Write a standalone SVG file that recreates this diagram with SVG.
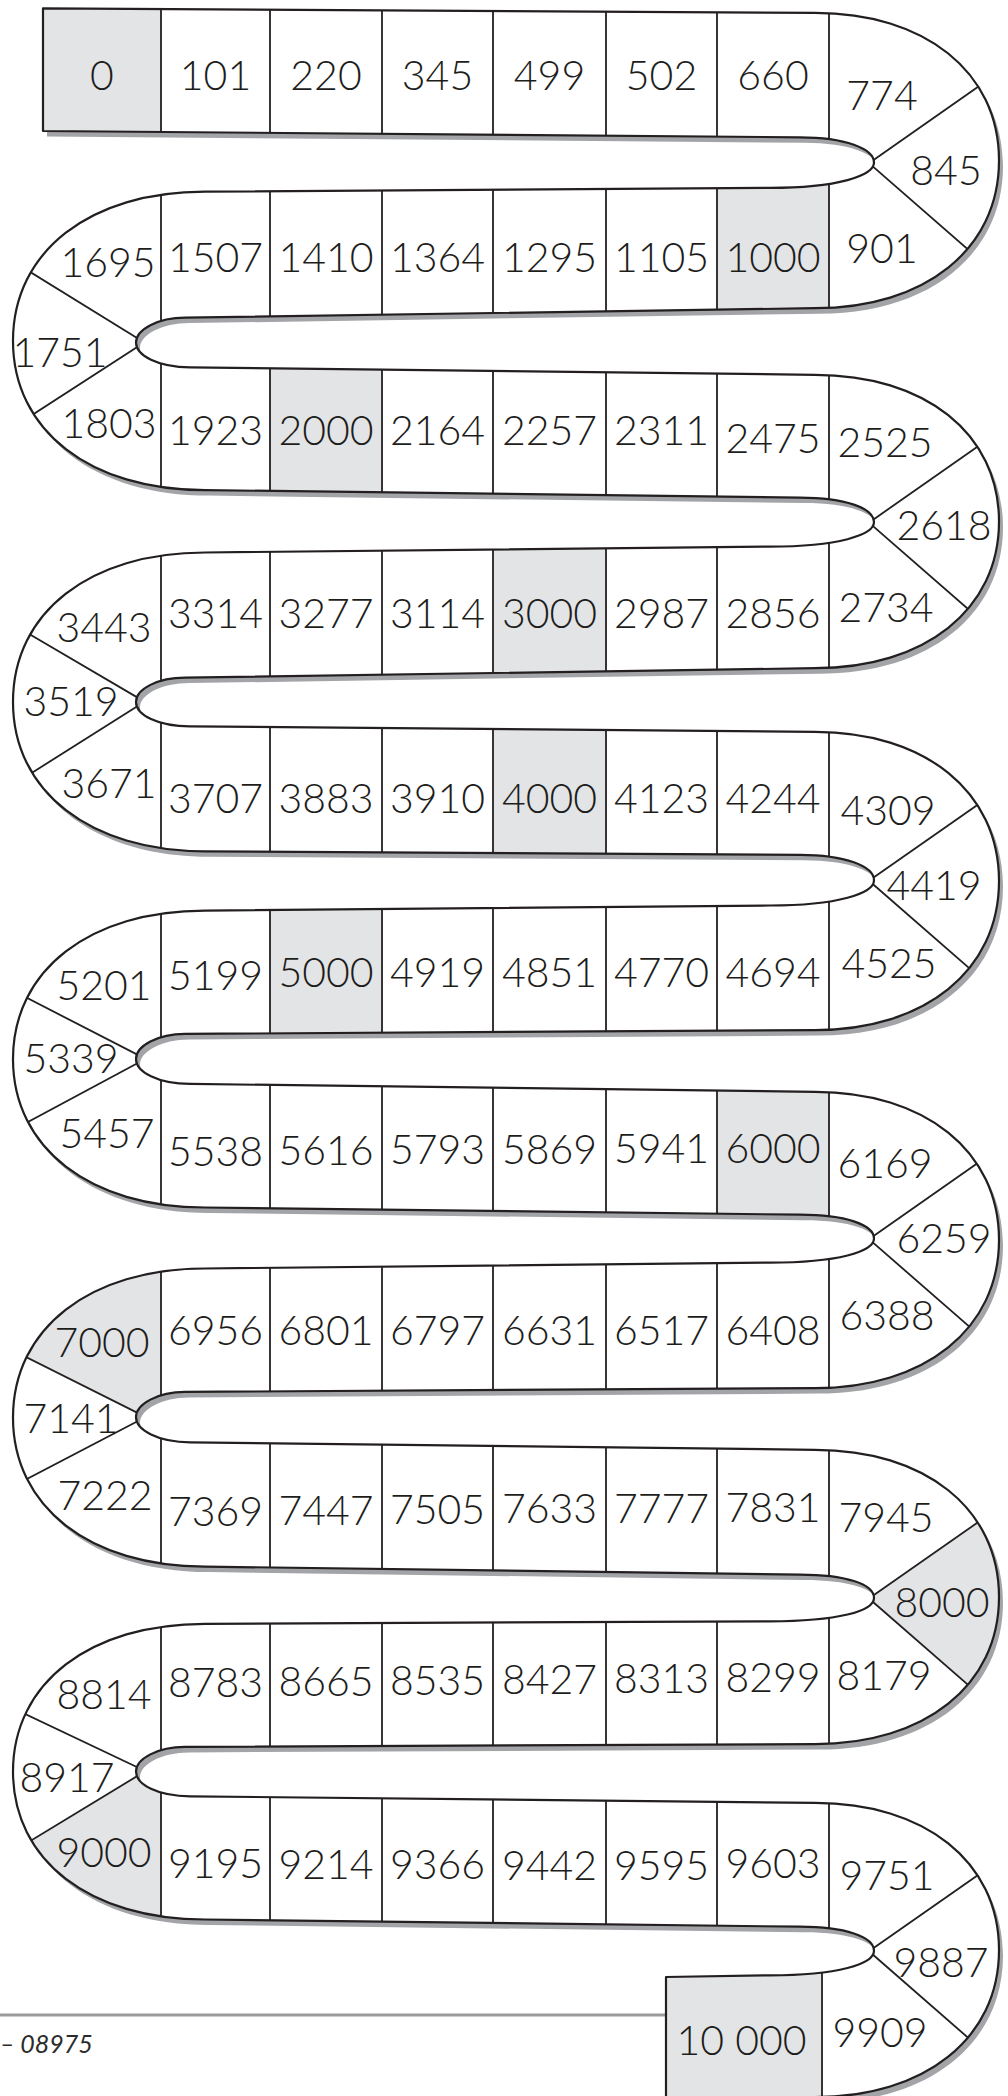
<svg xmlns="http://www.w3.org/2000/svg" xmlns:xlink="http://www.w3.org/1999/xlink" width="1008" height="2096" viewBox="0 0 1008 2096">
<style>
.t{font-family:Lato,"Noto Sans","DejaVu Sans",sans-serif;font-size:41px;font-weight:300;text-anchor:middle;fill:#1d1d1b}
.ln{stroke:#231f20;stroke-width:1.8;fill:none}
.sh{fill:#e3e4e6}
</style>
<defs>
<path id="outline" d="M43 8.3 L815 12.9 C925 12.9 999 71.95 999 160.55 C999 249.15 925 308.2 815 308.2 L185 317.6 C158 317.6 136 329.5 136 342.5 C136 355.5 158 367.3 190 367.3 L815 374.8 C925 374.8 999 433.5 999 521.5 C999 609.5 925 668.2 815 668.2 L185 677.6 C158 677.6 136 688.9 136 701.9 C136 714.9 158 726.3 190 726.3 L815 731.9 C925 731.9 999 791.5 999 881 C999 970.5 925 1030.1 815 1030.1 L185 1033.9 C158 1033.9 136 1045.9 136 1058.9 C136 1071.9 158 1083.9 190 1083.9 L815 1091.8 C925 1091.8 999 1151.05 999 1239.95 C999 1328.85 925 1388.1 815 1388.1 L185 1391.9 C158 1391.9 136 1404.1 136 1417.1 C136 1430.1 158 1442.3 190 1442.3 L815 1449.8 C925 1449.8 999 1508.65 999 1596.95 C999 1685.25 925 1744.1 815 1744.1 L185 1746.9 C158 1746.9 136 1758.6 136 1771.6 C136 1784.6 158 1796.3 190 1796.3 L815 1802.9 C925 1802.9 999 1861.7 999 1950 C999 2038.3 925 2097.1 815 2097.1 L815 2130 L666 2130 L666 1977 L770 1975.3 C838 1975.3 874 1964 874 1950.8 C874 1936.8 845 1926.7 800 1926.7 L205 1919.5 C90 1919.5 13 1860.35 13 1771.65 C13 1682.95 90 1623.8 205 1623.8 L770 1621.3 C838 1621.3 874 1611 874 1597.95 C874 1583.95 845 1574.6 800 1574.6 L205 1566.6 C90 1566.6 13 1507 13 1417.6 C13 1328.2 90 1268.5 205 1268.5 L770 1262.6 C838 1262.6 874 1251.6 874 1238.6 C874 1224.6 845 1214.7 800 1214.7 L205 1207.5 C90 1207.5 13 1148.15 13 1059.05 C13 969.95 90 910.6 205 910.6 L770 905.5 C838 905.5 874 893.2 874 880.2 C874 866.2 845 854.8 800 854.8 L205 851.3 C90 851.3 13 791.5 13 701.9 C13 612.3 90 552.5 205 552.5 L770 546.6 C838 546.6 874 535.1 874 522.1 C874 508.1 845 497.6 800 497.6 L205 490.1 C90 490.1 13 430.4 13 340.9 C13 251.4 90 191.7 205 191.7 L770 187.9 C838 187.9 874 175.6 874 162.6 C874 148.6 845 137.3 800 137.3 L43 131 Z"/>
<clipPath id="clip"><use href="#outline"/></clipPath>
</defs>
<rect width="1008" height="2096" fill="#fff"/>
<g id="footer">
<line x1="0" y1="2015" x2="666" y2="2015" stroke="#9b9b9b" stroke-width="3"/>
<text x="0" y="2053" style="font-family:Lato,'Noto Sans',sans-serif;font-size:25px;font-style:italic;fill:#2b2b2b">– 08975</text>
</g>
<g id="board">
<use href="#outline" transform="translate(4,5.5)" fill="#a2a4a7"/>
<use href="#outline" fill="#fff"/>
<g id="shaded" clip-path="url(#clip)">
<rect class="sh" x="43" y="0" width="118" height="150"/>
<rect class="sh" x="717" y="170" width="112" height="160"/>
<rect class="sh" x="270" y="350" width="112" height="160"/>
<rect class="sh" x="493" y="530" width="113" height="170"/>
<rect class="sh" x="493" y="710" width="113" height="160"/>
<rect class="sh" x="270" y="890" width="112" height="160"/>
<rect class="sh" x="717" y="1070" width="112" height="160"/>
<polygon class="sh" points="161,1250 161,1417.1 150,1419.1 -5,1341.5 -5,1250"/>
<polygon class="sh" points="869,1598.45 1008,1501.25 1008,1719.75"/>
<polygon class="sh" points="161,1771.6 150,1768.3 -5,1862.5 -5,1940 161,1940"/>
<rect class="sh" x="666" y="1955" width="156" height="141"/>
</g>
<g id="connectors" clip-path="url(#clip)">
<line class="ln" x1="161" y1="0" x2="161" y2="1940"/>
<line class="ln" x1="270" y1="0" x2="270" y2="1940"/>
<line class="ln" x1="382" y1="0" x2="382" y2="1940"/>
<line class="ln" x1="493" y1="0" x2="493" y2="1940"/>
<line class="ln" x1="606" y1="0" x2="606" y2="1940"/>
<line class="ln" x1="717" y1="0" x2="717" y2="1940"/>
<line class="ln" x1="829" y1="0" x2="829" y2="1940"/>
<line class="ln" x1="822" y1="1940" x2="822" y2="2100"/>
<line class="ln" x1="865" y1="165.9" x2="1008" y2="65.9"/>
<line class="ln" x1="865" y1="159.6" x2="1008" y2="284.4"/>
<line class="ln" x1="865" y1="525.4" x2="1008" y2="425.4"/>
<line class="ln" x1="865" y1="519.1" x2="1008" y2="643.9"/>
<line class="ln" x1="865" y1="883.5" x2="1008" y2="783.5"/>
<line class="ln" x1="865" y1="877.2" x2="1008" y2="1002"/>
<line class="ln" x1="865" y1="1241.9" x2="1008" y2="1141.9"/>
<line class="ln" x1="865" y1="1235.6" x2="1008" y2="1360.4"/>
<line class="ln" x1="865" y1="1601.25" x2="1008" y2="1501.25"/>
<line class="ln" x1="865" y1="1594.95" x2="1008" y2="1719.75"/>
<line class="ln" x1="865" y1="1954.1" x2="1008" y2="1854.1"/>
<line class="ln" x1="865" y1="1947.8" x2="1008" y2="2072.6"/>
<line class="ln" x1="150" y1="345.9" x2="-5" y2="250.3"/>
<line class="ln" x1="150" y1="338.7" x2="-5" y2="439.1"/>
<line class="ln" x1="150" y1="704.9" x2="-5" y2="613.9"/>
<line class="ln" x1="150" y1="698.3" x2="-5" y2="796.1"/>
<line class="ln" x1="150" y1="1061.1" x2="-5" y2="981.5"/>
<line class="ln" x1="150" y1="1056.5" x2="-5" y2="1139.6"/>
<line class="ln" x1="150" y1="1419.1" x2="-5" y2="1341.5"/>
<line class="ln" x1="150" y1="1414.8" x2="-5" y2="1495.7"/>
<line class="ln" x1="150" y1="1773.3" x2="-5" y2="1699.7"/>
<line class="ln" x1="150" y1="1768.3" x2="-5" y2="1862.5"/>
</g>
<use href="#outline" fill="none" stroke="#231f20" stroke-width="2.2" stroke-linejoin="round"/>
</g>
<g id="labels">
<text id="n0" class="t" x="102" y="90">0</text>
<text id="n101" class="t" x="215.5" y="90">101</text>
<text id="n220" class="t" x="326" y="90">220</text>
<text id="n345" class="t" x="437.5" y="90">345</text>
<text id="n499" class="t" x="549.5" y="90">499</text>
<text id="n502" class="t" x="661.5" y="90">502</text>
<text id="n660" class="t" x="773" y="90">660</text>
<text id="n774" class="t" x="882" y="110">774</text>
<text id="n845" class="t" x="946" y="185">845</text>
<text id="n901" class="t" x="882" y="263">901</text>
<text id="n1000" class="t" x="773" y="272">1000</text>
<text id="n1105" class="t" x="661.5" y="272">1105</text>
<text id="n1295" class="t" x="549.5" y="272">1295</text>
<text id="n1364" class="t" x="437.5" y="272">1364</text>
<text id="n1410" class="t" x="326" y="272">1410</text>
<text id="n1507" class="t" x="215.5" y="272">1507</text>
<text id="n1695" class="t" x="108" y="277">1695</text>
<text id="n1751" class="t" x="60" y="367">1751</text>
<text id="n1803" class="t" x="109" y="438">1803</text>
<text id="n1923" class="t" x="215.5" y="445">1923</text>
<text id="n2000" class="t" x="326" y="445">2000</text>
<text id="n2164" class="t" x="437.5" y="445">2164</text>
<text id="n2257" class="t" x="549.5" y="445">2257</text>
<text id="n2311" class="t" x="661.5" y="445">2311</text>
<text id="n2475" class="t" x="773" y="453">2475</text>
<text id="n2525" class="t" x="885" y="457">2525</text>
<text id="n2618" class="t" x="944" y="540">2618</text>
<text id="n2734" class="t" x="886" y="622">2734</text>
<text id="n2856" class="t" x="773" y="628">2856</text>
<text id="n2987" class="t" x="661.5" y="628">2987</text>
<text id="n3000" class="t" x="549.5" y="628">3000</text>
<text id="n3114" class="t" x="437.5" y="628">3114</text>
<text id="n3277" class="t" x="326" y="628">3277</text>
<text id="n3314" class="t" x="215.5" y="628">3314</text>
<text id="n3443" class="t" x="104" y="642">3443</text>
<text id="n3519" class="t" x="71" y="716">3519</text>
<text id="n3671" class="t" x="109" y="798">3671</text>
<text id="n3707" class="t" x="215.5" y="813">3707</text>
<text id="n3883" class="t" x="326" y="813">3883</text>
<text id="n3910" class="t" x="437.5" y="813">3910</text>
<text id="n4000" class="t" x="549.5" y="813">4000</text>
<text id="n4123" class="t" x="661.5" y="813">4123</text>
<text id="n4244" class="t" x="773" y="813">4244</text>
<text id="n4309" class="t" x="888" y="825">4309</text>
<text id="n4419" class="t" x="934" y="900">4419</text>
<text id="n4525" class="t" x="889" y="978">4525</text>
<text id="n4694" class="t" x="773" y="987">4694</text>
<text id="n4770" class="t" x="661.5" y="987">4770</text>
<text id="n4851" class="t" x="549.5" y="987">4851</text>
<text id="n4919" class="t" x="437.5" y="987">4919</text>
<text id="n5000" class="t" x="326" y="987">5000</text>
<text id="n5199" class="t" x="215.5" y="990">5199</text>
<text id="n5201" class="t" x="104" y="1000">5201</text>
<text id="n5339" class="t" x="71" y="1073">5339</text>
<text id="n5457" class="t" x="107" y="1148">5457</text>
<text id="n5538" class="t" x="215.5" y="1166">5538</text>
<text id="n5616" class="t" x="326" y="1165">5616</text>
<text id="n5793" class="t" x="437.5" y="1164">5793</text>
<text id="n5869" class="t" x="549.5" y="1164">5869</text>
<text id="n5941" class="t" x="661.5" y="1163">5941</text>
<text id="n6000" class="t" x="773" y="1163">6000</text>
<text id="n6169" class="t" x="885" y="1178">6169</text>
<text id="n6259" class="t" x="944" y="1253">6259</text>
<text id="n6388" class="t" x="887" y="1330">6388</text>
<text id="n6408" class="t" x="773" y="1345">6408</text>
<text id="n6517" class="t" x="661.5" y="1345">6517</text>
<text id="n6631" class="t" x="549.5" y="1345">6631</text>
<text id="n6797" class="t" x="437.5" y="1345">6797</text>
<text id="n6801" class="t" x="326" y="1345">6801</text>
<text id="n6956" class="t" x="215.5" y="1345">6956</text>
<text id="n7000" class="t" x="102" y="1357">7000</text>
<text id="n7141" class="t" x="71" y="1433">7141</text>
<text id="n7222" class="t" x="105" y="1510">7222</text>
<text id="n7369" class="t" x="215.5" y="1526">7369</text>
<text id="n7447" class="t" x="326" y="1525">7447</text>
<text id="n7505" class="t" x="437.5" y="1524">7505</text>
<text id="n7633" class="t" x="549.5" y="1523">7633</text>
<text id="n7777" class="t" x="661.5" y="1523">7777</text>
<text id="n7831" class="t" x="773" y="1522">7831</text>
<text id="n7945" class="t" x="886" y="1532">7945</text>
<text id="n8000" class="t" x="942" y="1617">8000</text>
<text id="n8179" class="t" x="884" y="1690">8179</text>
<text id="n8299" class="t" x="773" y="1692">8299</text>
<text id="n8313" class="t" x="661.5" y="1693">8313</text>
<text id="n8427" class="t" x="549.5" y="1694">8427</text>
<text id="n8535" class="t" x="437.5" y="1695">8535</text>
<text id="n8665" class="t" x="326" y="1696">8665</text>
<text id="n8783" class="t" x="215.5" y="1697">8783</text>
<text id="n8814" class="t" x="104" y="1709">8814</text>
<text id="n8917" class="t" x="67" y="1792">8917</text>
<text id="n9000" class="t" x="104" y="1867">9000</text>
<text id="n9195" class="t" x="215.5" y="1878">9195</text>
<text id="n9214" class="t" x="326" y="1879">9214</text>
<text id="n9366" class="t" x="437.5" y="1879">9366</text>
<text id="n9442" class="t" x="549.5" y="1880">9442</text>
<text id="n9595" class="t" x="661.5" y="1880">9595</text>
<text id="n9603" class="t" x="773" y="1878">9603</text>
<text id="n9751" class="t" x="887" y="1890">9751</text>
<text id="n9887" class="t" x="941" y="1977">9887</text>
<text id="n9909" class="t" x="880" y="2047">9909</text>
<text id="n10000" class="t" x="741.5" y="2055">10 000</text>
</g>
</svg>
